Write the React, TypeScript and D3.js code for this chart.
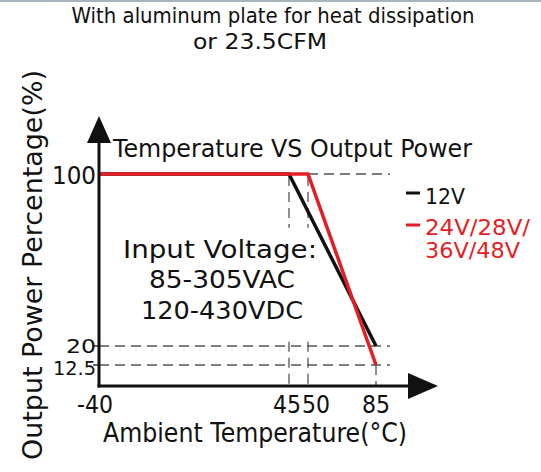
import React from 'react';
import * as d3 from 'd3';

// temperature breakpoints on the x axis (not evenly spaced in the original)
const tempTicks = [-40, 45, 50, 85];
const powerTicks = [12.5, 20, 100];

const curve12V = [
  { t: -40, p: 100 },
  { t: 45, p: 100 },
  { t: 85, p: 20 },
];
const curve24V = [
  { t: -40, p: 100 },
  { t: 50, p: 100 },
  { t: 85, p: 12.5 },
];

const legendItems = [
  { lines: ['12V'], color: '#111111' },
  { lines: ['24V/28V/', '36V/48V'], color: '#e31e24' },
];

const inputLines = ['Input Voltage:', '85-305VAC', '120-430VDC'];

const FONT = "'DejaVu Sans', 'Open Sans', sans-serif";
const NARROW = "'DejaVu Sans Condensed', 'Liberation Sans Narrow', 'DejaVu Sans', sans-serif";

export default function App() {
  const width = 541;
  const height = 472;

  // piecewise scales, the drawing is not to scale between breakpoints
  const x = d3.scaleLinear().domain([-40, 45, 50, 85]).range([99, 289, 308, 376]);
  const y = d3.scaleLinear().domain([0, 12.5, 20, 100]).range([386, 365, 346, 174]);

  const line = d3.line<{ t: number; p: number }>()
    .x((d) => x(d.t))
    .y((d) => y(d.p));

  const x0 = x(-40);
  const y0 = y(0);
  const dashEnd = x(85) + 14;
  const dash = { stroke: '#555', strokeWidth: 1.3, strokeDasharray: '10,6', fill: 'none' };

  // label offsets for the crowded 45 / 50 pair
  const tickDx: Record<number, number> = { [-40]: -4, 45: -2, 50: 8, 85: 0 };
  const yLabel: Record<number, { dy: number; len: number }> = {
    100: { dy: 10, len: 44 },
    20: { dy: 7, len: 30 },
    12.5: { dy: 10, len: 43 },
  };

  return (
    <svg
      width={width}
      height={height}
      style={{ position: 'absolute', left: 0, top: 0, background: '#fff' }}
    >
      <rect x={0} y={0} width={width} height={2} fill="#a9b3bd" />

      <text x={273} y={23} fontFamily={FONT} fontSize={21} textAnchor="middle"
        textLength={403} lengthAdjust="spacingAndGlyphs" fill="#111">
        With aluminum plate for heat dissipation
      </text>
      <text x={260} y={49} fontFamily={FONT} fontSize={21} textAnchor="middle"
        textLength={134} lengthAdjust="spacingAndGlyphs" fill="#111">
        or 23.5CFM
      </text>

      {/* dashed guide lines */}
      <line x1={x(50)} x2={dashEnd} y1={y(100)} y2={y(100)} style={dash} />
      {[20, 12.5].map((p) => (
        <line key={p} x1={x0} x2={dashEnd} y1={y(p)} y2={y(p)} style={dash} />
      ))}
      {[45, 50].map((t) => (
        <g key={t}>
          <line x1={x(t)} x2={x(t)} y1={y(100) + 2} y2={y(75)} style={dash} />
          <line x1={x(t)} x2={x(t)} y1={y(22)} y2={y0} style={dash} />
        </g>
      ))}
      <line x1={x(85)} x2={x(85)} y1={y(12.5)} y2={y0} style={dash} />

      {/* curves */}
      <path d={line(curve12V) ?? ''} fill="none" stroke="#111" strokeWidth={3.5} />
      <path d={line(curve24V) ?? ''} fill="none" stroke="#e31e24" strokeWidth={3.5} />

      {/* axes with arrows */}
      <line x1={x0} x2={x0} y1={y0 + 1.5} y2={140} stroke="#111" strokeWidth={3} />
      <path d={`M${x0},116 L${x0 - 12},143 L${x0 + 12},143 Z`} fill="#111" />
      <line x1={x0 - 1.5} x2={410} y1={y0} y2={y0} stroke="#111" strokeWidth={3} />
      <path d={`M438,${y0} L408,${y0 - 13} L408,${y0 + 13} Z`} fill="#111" />

      {/* y ticks */}
      {powerTicks.filter((p) => p !== 100).map((p) => (
        <line key={p} x1={x0 - 6} x2={x0} y1={y(p)} y2={y(p)} stroke="#111" strokeWidth={1.3} />
      ))}
      {powerTicks.map((p) => (
        <text key={p} x={x0 - 3} y={y(p) + yLabel[p].dy}
          fontFamily={NARROW} fontSize={p === 100 ? 25 : 20} textAnchor="end" fill="#111"
          textLength={yLabel[p].len} lengthAdjust="spacingAndGlyphs">
          {p}
        </text>
      ))}

      {/* x tick labels */}
      {tempTicks.map((t) => (
        <text key={t} x={x(t) + tickDx[t]} y={413} fontFamily={NARROW} fontSize={25}
          textAnchor="middle" fill="#111" textLength={t === -40 ? 36 : 28}
          lengthAdjust="spacingAndGlyphs">
          {t}
        </text>
      ))}

      {/* axis titles */}
      <text x={103} y={442} fontFamily={FONT} fontSize={26} fill="#111"
        textLength={304} lengthAdjust="spacingAndGlyphs">
        Ambient Temperature(°C)
      </text>
      <text transform="translate(42,265) rotate(-90)" fontFamily={FONT} fontSize={26}
        textAnchor="middle" fill="#111" textLength={390} lengthAdjust="spacingAndGlyphs">
        Output Power Percentage(%)
      </text>

      <text x={113} y={157} fontFamily={FONT} fontSize={25} fill="#111"
        textLength={359} lengthAdjust="spacingAndGlyphs">
        Temperature  VS Output Power
      </text>

      {/* legend */}
      {legendItems.map((item, i) => (
        <g key={i} fill={item.color}>
          <rect x={406} y={(i === 0 ? 193 : 225) - 1.5} width={14} height={3} />
          {item.lines.map((s, j) => (
            <text key={j} x={425} y={(i === 0 ? 204 : 235) + j * 23} fontFamily={FONT}
              fontSize={21} textLength={s.length > 7 ? 105 : s === '12V' ? 40 : 95}
              lengthAdjust="spacingAndGlyphs">
              {s}
            </text>
          ))}
        </g>
      ))}

      {/* annotation */}
      <text x={123} y={258} fontFamily={FONT} fontSize={25} fill="#111"
        textLength={194} lengthAdjust="spacingAndGlyphs">
        {inputLines[0]}
      </text>
      <text x={222} y={288} fontFamily={FONT} fontSize={25} fill="#111" textAnchor="middle"
        textLength={146} lengthAdjust="spacingAndGlyphs">
        {inputLines[1]}
      </text>
      <text x={222} y={319} fontFamily={FONT} fontSize={25} fill="#111" textAnchor="middle"
        textLength={162} lengthAdjust="spacingAndGlyphs">
        {inputLines[2]}
      </text>
    </svg>
  );
}
